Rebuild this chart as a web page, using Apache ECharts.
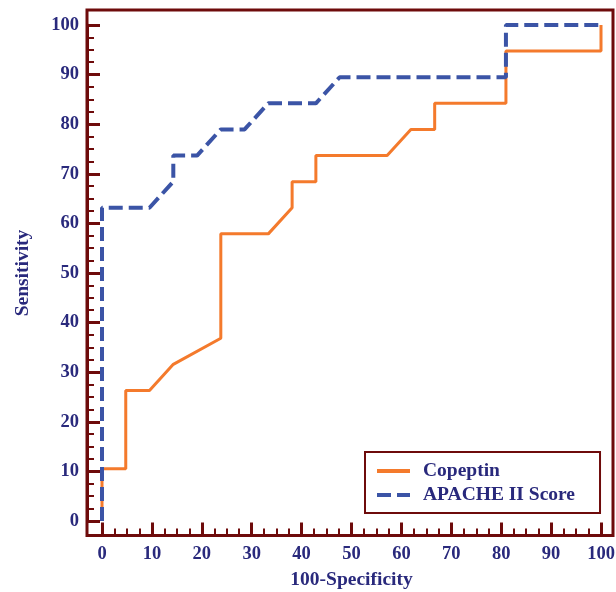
<!DOCTYPE html>
<html>
<head>
<meta charset="utf-8">
<script src="https://cdn.jsdelivr.net/npm/echarts@6/dist/echarts.min.js"></script>
<style>
  html, body { margin: 0; padding: 0; background: #fff; }
  #chart { width: 616px; height: 592px; }
</style>
</head>
<body>
<div id="chart"></div>
<script>
// ROC points (100-specificity, sensitivity)
var copeptinX = [0, 0, 4.76, 4.76, 9.52, 14.29, 23.81, 23.81, 33.33, 38.1, 38.1, 42.86, 42.86, 57.14, 61.9, 66.67, 66.67, 80.95, 80.95, 100, 100];
var copeptinY = [0, 10.53, 10.53, 26.32, 26.32, 31.58, 36.84, 57.89, 57.89, 63.16, 68.42, 68.42, 73.68, 73.68, 78.95, 78.95, 84.21, 84.21, 94.74, 94.74, 100];

var apacheX = [0, 0, 9.52, 14.29, 14.29, 19.05, 23.81, 28.57, 33.33, 42.86, 47.62, 80.95, 80.95, 100];
var apacheY = [0, 63.16, 63.16, 68.42, 73.68, 73.68, 78.95, 78.95, 84.21, 84.21, 89.47, 89.47, 100, 100];

var seriesNames = ['Copeptin', 'APACHE II Score'];
var xTitle = '100-Specificity';
var yTitle = 'Sensitivity';

var maroon = '#6e0b0b';
var navy = '#29297c';
var orange = '#f47a2c';
var blue = '#3b54a6';
var serif = 'Liberation Serif';

function pairs(xs, ys) {
  var out = [];
  for (var i = 0; i < xs.length; i++) out.push([xs[i], ys[i]]);
  return out;
}

var chart = echarts.init(document.getElementById('chart'));

var axisCommon = {
  type: 'value',
  min: 0,
  max: 100,
  interval: 10,
  axisLine: { show: true, onZero: false, lineStyle: { color: maroon, width: 3 } },
  axisTick: { show: true, inside: true, length: 13, lineStyle: { color: maroon, width: 3 } },
  minorTick: { show: true, splitNumber: 4, length: 7, lineStyle: { color: maroon, width: 2 } },
  splitLine: { show: false },
  minorSplitLine: { show: false },
  axisLabel: { color: navy, fontFamily: serif, fontWeight: 'bold', fontSize: 18.5 },
  nameLocation: 'middle',
  nameTextStyle: { color: navy, fontFamily: serif, fontWeight: 'bold', fontSize: 19.5 }
};

var option = {
  animation: false,
  backgroundColor: '#fff',
  grid: [
    // data area
    { left: 102, right: 15, top: 25, bottom: 71, outerBoundsMode: 'none', containLabel: false },
    // frame
    { left: 87, right: 3, top: 10, bottom: 56.5, outerBoundsMode: 'none', containLabel: false,
      show: true, borderColor: maroon, borderWidth: 3, backgroundColor: 'transparent' }
  ],
  xAxis: [
    Object.assign({}, axisCommon, {
      gridIndex: 0,
      position: 'bottom',
      offset: 14.5,
      name: xTitle,
      nameGap: 34,
      axisLabel: Object.assign({}, axisCommon.axisLabel, { margin: 9 })
    }),
    { gridIndex: 1, type: 'value', show: false, min: 0, max: 1 }
  ],
  yAxis: [
    Object.assign({}, axisCommon, {
      gridIndex: 0,
      position: 'left',
      offset: 15,
      name: yTitle,
      nameGap: 54,
      axisLabel: Object.assign({}, axisCommon.axisLabel, { margin: 8 })
    }),
    { gridIndex: 1, type: 'value', show: false, min: 0, max: 1 }
  ],
  legend: {
    orient: 'vertical',
    left: 365,
    top: 452,
    padding: [9, 25, 8, 10],
    itemWidth: 33,
    itemHeight: 14,
    itemGap: 4,
    borderColor: maroon,
    borderWidth: 2,
    backgroundColor: '#fff',
    data: seriesNames,
    lineStyle: { width: 4 },
    itemStyle: { color: 'rgba(0,0,0,0)', borderColor: 'rgba(0,0,0,0)', borderWidth: 0 },
    textStyle: { color: navy, fontFamily: serif, fontWeight: 'bold', fontSize: 19.5, lineHeight: 18, padding: [0, 0, 0, 8] }
  },
  series: [
    {
      name: seriesNames[0],
      type: 'line',
      xAxisIndex: 0,
      yAxisIndex: 0,
      symbol: 'none',
      clip: false,
      lineStyle: { color: orange, width: 3, cap: 'butt' },
      itemStyle: { color: orange },
      data: pairs(copeptinX, copeptinY)
    },
    {
      name: seriesNames[1],
      type: 'line',
      xAxisIndex: 0,
      yAxisIndex: 0,
      symbol: 'none',
      clip: false,
      lineStyle: { color: blue, width: 4, type: [14, 6], cap: 'butt' },
      itemStyle: { color: blue },
      data: pairs(apacheX, apacheY)
    }
  ]
};

chart.setOption(option);
</script>
</body>
</html>
